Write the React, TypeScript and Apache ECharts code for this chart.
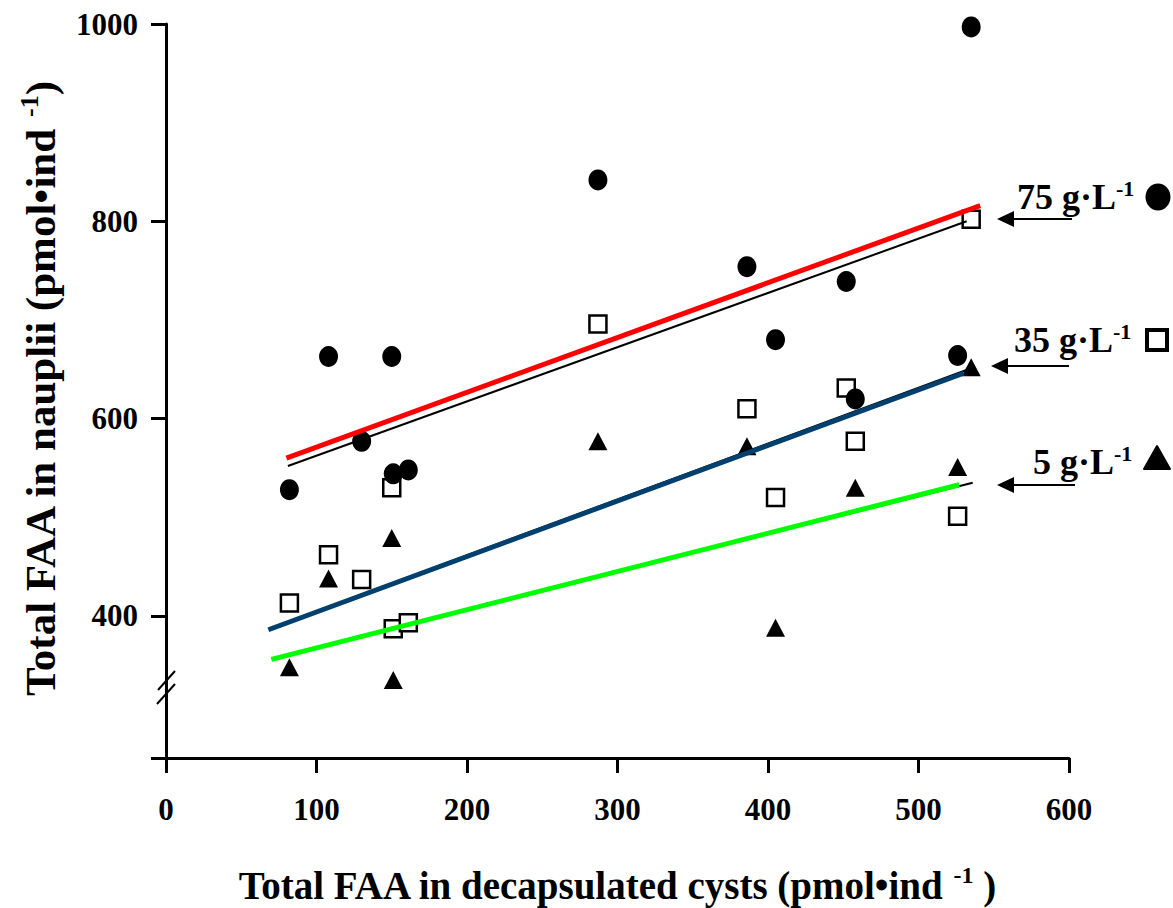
import React, { useEffect, useRef } from "react";
import * as echarts from "echarts";

// Shared x values: total FAA in decapsulated cysts (pmol/ind)
const cystFAA = [82, 108, 130, 150, 151, 161, 287, 386, 405, 452, 458, 526, 535];
// Total FAA in nauplii at three salinities
const nauplii75 = [528, 663, 577, 663, 544, 548, 842, 754, 680, 739, 620, 664, 997];
const nauplii35 = [413, 462, 437, 530, 387, 393, 696, 610, 520, 631, 577, 501, 802];
const nauplii5: (number | null)[] = [348, 438, null, 479, 335, null, 577, 572, 388, null, 530, 551, 652];

// Regression lines (end points)
const fit75X = [80, 541];
const fit75Y = [560, 816];
const fit75bX = [81, 532];
const fit75bY = [552, 800];
const fit35X = [68, 530];
const fit35Y = [386, 646];
const fit35bX = [81, 535];
const fit35bY = [394, 651];
const fit5X = [70, 527];
const fit5Y = [356, 533];
const fit5bX = [81, 536];
const fit5bY = [361, 535];

const xTicks = [0, 100, 200, 300, 400, 500, 600];
const yLabels = [400, 600, 800, 1000];
const yTickValues = [256, 400, 600, 800, 1000];
const yMin = 256;
const yMax = 1000;

const FONT = '"Liberation Serif", "Times New Roman", serif';

function pairs(xs: number[], ys: (number | null)[]) {
  const out: number[][] = [];
  xs.forEach((x, i) => {
    const y = ys[i];
    if (y !== null && y !== undefined) out.push([x, y]);
  });
  return out;
}

function arrow(tipX: number, endX: number, y: number) {
  return [
    {
      type: "line",
      shape: { x1: tipX + 12, y1: y, x2: endX, y2: y },
      style: { stroke: "#000", lineWidth: 2 },
    },
    {
      type: "polygon",
      shape: { points: [[tipX, y], [tipX + 17, y - 8], [tipX + 17, y + 8]] },
      style: { fill: "#000" },
    },
  ];
}

function legendLabel(x: number, y: number, num: string) {
  return {
    type: "text",
    x,
    y,
    style: {
      text: `{a|${num} g·L}{s|-1}`,
      align: "left",
      verticalAlign: "middle",
      rich: {
        a: { fontFamily: FONT, fontWeight: "bold", fontSize: 36, lineHeight: 40, fill: "#000" },
        s: { fontFamily: FONT, fontWeight: "bold", fontSize: 22, lineHeight: 22, verticalAlign: "top", fill: "#000" },
      },
    },
  };
}

export default function App() {
  const ref = useRef<HTMLDivElement>(null);
  useEffect(() => {
    if (!ref.current) return;
    const chart = echarts.init(ref.current, null, { renderer: "svg" });
    const lineSeries = (xs: number[], ys: number[], color: string, width: number, z: number) => ({
      type: "line",
      data: pairs(xs, ys),
      showSymbol: false,
      symbol: "none",
      lineStyle: { color, width, opacity: 1 },
      z,
      silent: true,
    });
    chart.setOption({
      animation: false,
      backgroundColor: "#fff",
      grid: { left: 166, right: 104, top: 24, bottom: 150, containLabel: false },
      xAxis: {
        type: "value",
        min: xTicks[0],
        max: xTicks[xTicks.length - 1],
        interval: 100,
        splitLine: { show: false },
        axisLine: { show: true, lineStyle: { color: "#000", width: 3 } },
        axisTick: { show: true, inside: false, length: 15, lineStyle: { color: "#000", width: 3 } },
        axisLabel: {
          margin: 36,
          color: "#000",
          fontFamily: FONT,
          fontWeight: "bold",
          fontSize: 31,
          formatter: (v: number) => String(v),
        },
      },
      yAxis: {
        type: "value",
        min: yMin,
        max: yMax,
        splitLine: { show: false },
        axisLine: { show: true, lineStyle: { color: "#000", width: 3 } },
        axisTick: {
          show: true,
          inside: false,
          length: 15,
          customValues: yTickValues,
          lineStyle: { color: "#000", width: 3 },
        },
        axisLabel: {
          margin: 28,
          customValues: yLabels,
          color: "#000",
          fontFamily: FONT,
          fontWeight: "bold",
          fontSize: 31,
          formatter: (v: number) => String(v),
        },
      },
      series: [
        {
          type: "scatter",
          name: "5 g/L",
          data: pairs(cystFAA, nauplii5),
          symbol: "triangle",
          symbolSize: [19, 18],
          itemStyle: { color: "#000", opacity: 1 },
          z: 2,
        },
        {
          type: "scatter",
          name: "35 g/L",
          data: pairs(cystFAA, nauplii35),
          symbol: "rect",
          symbolSize: 17,
          itemStyle: { color: "#fff", borderColor: "#000", borderWidth: 2.5, opacity: 1 },
          z: 3,
        },
        {
          type: "scatter",
          name: "75 g/L",
          data: pairs(cystFAA, nauplii75),
          symbol: "circle",
          symbolSize: [19, 21],
          itemStyle: { color: "#000", opacity: 1 },
          z: 4,
        },
        lineSeries(fit5X, fit5Y, "#00ff00", 5, 5),
        lineSeries(fit5bX, fit5bY, "#000", 2, 4),
        lineSeries(fit35X, fit35Y, "#00406e", 5, 5),
        lineSeries(fit35bX, fit35bY, "#000", 2, 4),
        lineSeries(fit75X, fit75Y, "#ff0000", 5, 5),
        lineSeries(fit75bX, fit75bY, "#000", 2, 5),
      ],
      graphic: [
        // axis break marks
        { type: "line", shape: { x1: 175, y1: 671, x2: 158, y2: 690 }, style: { stroke: "#000", lineWidth: 2 }, z: 100 },
        { type: "line", shape: { x1: 175, y1: 684, x2: 157, y2: 704 }, style: { stroke: "#000", lineWidth: 2 }, z: 100 },
        // x axis title
        {
          type: "text",
          x: 617,
          y: 885,
          style: {
            text: "{a|Total FAA in decapsulated cysts (pmol•ind }{s|-1}{a| )}",
            align: "center",
            verticalAlign: "middle",
            rich: {
              a: { fontFamily: FONT, fontWeight: "bold", fontSize: 39, lineHeight: 44, fill: "#000" },
              s: { fontFamily: FONT, fontWeight: "bold", fontSize: 24, lineHeight: 24, verticalAlign: "top", fill: "#000" },
            },
          },
        },
        // y axis title
        {
          type: "text",
          x: 40,
          y: 389,
          rotation: Math.PI / 2,
          style: {
            text: "{a|Total FAA in nauplii (pmol•ind }{s|-1}{a|)}",
            align: "center",
            verticalAlign: "middle",
            rich: {
              a: { fontFamily: FONT, fontWeight: "bold", fontSize: 43, lineHeight: 48, fill: "#000" },
              s: { fontFamily: FONT, fontWeight: "bold", fontSize: 26, lineHeight: 26, verticalAlign: "top", fill: "#000" },
            },
          },
        },
        // annotations
        legendLabel(1017, 197, "75"),
        legendLabel(1014, 340, "35"),
        legendLabel(1033, 462, "5"),
        ...arrow(997, 1072, 219),
        ...arrow(991, 1069, 366),
        ...arrow(997, 1075, 485),
        { type: "ellipse", shape: { cx: 1158, cy: 197, rx: 12.5, ry: 13.5 }, style: { fill: "#000" } },
        { type: "rect", shape: { x: 1147, y: 330, width: 20, height: 20 }, style: { fill: "#fff", stroke: "#000", lineWidth: 4 } },
        { type: "polygon", shape: { points: [[1157, 446], [1170, 469], [1144, 469]] }, style: { fill: "#000", stroke: "#000", lineWidth: 2, lineJoin: "round" } },
      ],
    });
    return () => chart.dispose();
  }, []);
  return <div ref={ref} style={{ position: "fixed", left: 0, top: 0, width: 1173, height: 908 }} />;
}
